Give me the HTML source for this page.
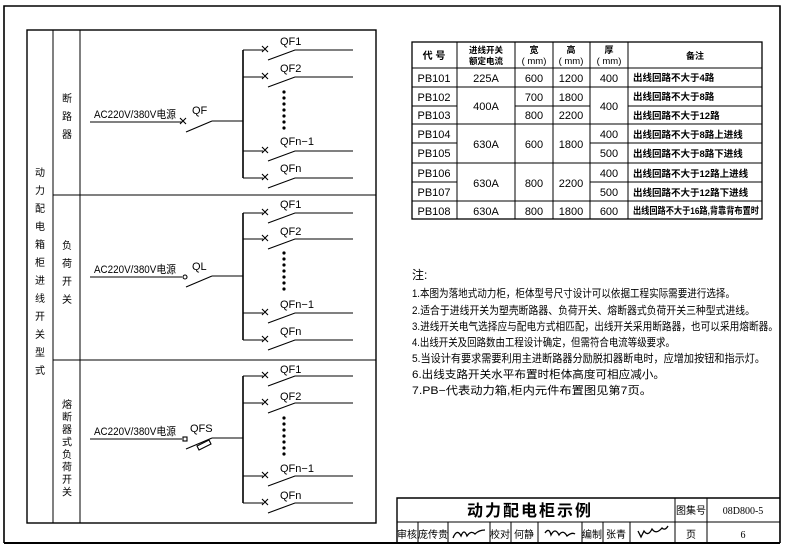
<!DOCTYPE html>
<html><head><meta charset="utf-8"><style>
html,body{margin:0;padding:0;background:#fff;}
svg{display:block;font-family:"Liberation Sans","Noto Sans CJK SC",sans-serif;}
</style></head><body>
<svg width="787" height="550" viewBox="0 0 787 550" xmlns="http://www.w3.org/2000/svg">
<g stroke="#000" fill="none">
<polyline points="4,543 4,6 780,6 780,543" stroke-width="1.6"/>
<line x1="4" y1="543" x2="780" y2="543" stroke-width="2"/>
<rect x="27" y="30" width="349" height="493" stroke-width="1.4"/>
<line x1="53" y1="30" x2="53" y2="523" stroke-width="1"/>
<line x1="80" y1="30" x2="80" y2="523" stroke-width="1"/>
<line x1="53" y1="195" x2="376" y2="195" stroke-width="1"/>
<line x1="53" y1="360" x2="376" y2="360" stroke-width="1"/>
</g>

<g stroke="#000" stroke-width="1.1" fill="none">
<line x1="90" y1="122" x2="182" y2="122"/>
<path d="M180,118 l6,6 M186,118 l-6,6"/>
<line x1="186" y1="132" x2="212" y2="121"/>
<line x1="212" y1="121" x2="243" y2="121"/>
<line x1="243" y1="50" x2="243" y2="178" stroke-width="1.6"/>
<line x1="90" y1="277" x2="182" y2="277"/>
<circle cx="185" cy="277" r="2"/>
<line x1="186" y1="287" x2="212" y2="276"/>
<line x1="212" y1="276" x2="243" y2="276"/>
<line x1="243" y1="213" x2="243" y2="340" stroke-width="1.6"/>
<line x1="90" y1="439" x2="182" y2="439"/>
<rect x="183" y="437" width="4" height="4"/>
<line x1="186" y1="449" x2="212" y2="438"/>
<polygon points="197,446 209,440 211,444 199,450" />
<line x1="212" y1="438" x2="243" y2="438"/>
<line x1="243" y1="376" x2="243" y2="503" stroke-width="1.6"/>
<g>
<path d="M243,50 H263 M262,46 l6,6 M268,46 l-6,6 M268,60 L295,50 H353"/>
<path d="M243,77 H263 M262,73 l6,6 M268,73 l-6,6 M268,87 L295,77 H353"/>
<path d="M243,151 H263 M262,147 l6,6 M268,147 l-6,6 M268,161 L295,151 H353"/>
<path d="M243,178 H263 M262,174 l6,6 M268,174 l-6,6 M268,188 L295,178 H353"/>
</g>
<g transform="translate(0,163)">
<path d="M243,50 H263 M262,46 l6,6 M268,46 l-6,6 M268,60 L295,50 H353"/>
<path d="M243,76 H263 M262,72 l6,6 M268,72 l-6,6 M268,86 L295,76 H353"/>
<path d="M243,150 H263 M262,146 l6,6 M268,146 l-6,6 M268,160 L295,150 H353"/>
<path d="M243,177 H263 M262,173 l6,6 M268,173 l-6,6 M268,187 L295,177 H353"/>
</g>
<g transform="translate(0,326)">
<path d="M243,50 H263 M262,46 l6,6 M268,46 l-6,6 M268,60 L295,50 H353"/>
<path d="M243,77 H263 M262,73 l6,6 M268,73 l-6,6 M268,87 L295,77 H353"/>
<path d="M243,150 H263 M262,146 l6,6 M268,146 l-6,6 M268,160 L295,150 H353"/>
<path d="M243,177 H263 M262,173 l6,6 M268,173 l-6,6 M268,187 L295,177 H353"/>
</g>
</g>

<g fill="#000">
<circle cx="284" cy="92" r="1.6"/><circle cx="284" cy="98" r="1.6"/><circle cx="284" cy="104" r="1.6"/><circle cx="284" cy="110" r="1.6"/><circle cx="284" cy="116" r="1.6"/><circle cx="284" cy="122" r="1.6"/><circle cx="284" cy="128" r="1.6"/>
<circle cx="284" cy="253" r="1.6"/><circle cx="284" cy="259" r="1.6"/><circle cx="284" cy="265" r="1.6"/><circle cx="284" cy="271" r="1.6"/><circle cx="284" cy="277" r="1.6"/><circle cx="284" cy="283" r="1.6"/><circle cx="284" cy="289" r="1.6"/>
<circle cx="284" cy="418" r="1.6"/><circle cx="284" cy="424" r="1.6"/><circle cx="284" cy="430" r="1.6"/><circle cx="284" cy="436" r="1.6"/><circle cx="284" cy="442" r="1.6"/><circle cx="284" cy="448" r="1.6"/><circle cx="284" cy="454" r="1.6"/>
</g>

<g font-size="11" fill="#000">
<text x="94" y="118" textLength="82" lengthAdjust="spacingAndGlyphs">AC220V/380V电源</text>
<text x="94" y="273" textLength="82" lengthAdjust="spacingAndGlyphs">AC220V/380V电源</text>
<text x="94" y="435" textLength="82" lengthAdjust="spacingAndGlyphs">AC220V/380V电源</text>
<text x="192" y="114">QF</text>
<text x="192" y="270">QL</text>
<text x="190" y="432">QFS</text>
<text x="280" y="45">QF1</text><text x="280" y="72">QF2</text><text x="280" y="145">QFn−1</text><text x="280" y="172">QFn</text>
<text x="280" y="208">QF1</text><text x="280" y="235">QF2</text><text x="280" y="308">QFn−1</text><text x="280" y="335">QFn</text>
<text x="280" y="373">QF1</text><text x="280" y="400">QF2</text><text x="280" y="472">QFn−1</text><text x="280" y="499">QFn</text>
</g>

<g font-size="10" fill="#000" text-anchor="middle">
<text x="40" y="176">动</text><text x="40" y="194">力</text><text x="40" y="212">配</text><text x="40" y="230">电</text><text x="40" y="248">箱</text><text x="40" y="266">柜</text><text x="40" y="284">进</text><text x="40" y="302">线</text><text x="40" y="320">开</text><text x="40" y="338">关</text><text x="40" y="356">型</text><text x="40" y="374">式</text>
<text x="67" y="102">断</text><text x="67" y="120">路</text><text x="67" y="138">器</text>
<text x="67" y="249">负</text><text x="67" y="267">荷</text><text x="67" y="285">开</text><text x="67" y="303">关</text>
<text x="67" y="408">熔</text><text x="67" y="420.5">断</text><text x="67" y="433">器</text><text x="67" y="445.5">式</text><text x="67" y="458">负</text><text x="67" y="470.5">荷</text><text x="67" y="483">开</text><text x="67" y="495.5">关</text>
</g>

<g stroke="#000" stroke-width="1" fill="none">
<rect x="412" y="42" width="350" height="177" stroke-width="1.3"/>
<path d="M412,68H762 M412,87H762 M412,124H762 M412,163H762 M412,201H762"/>
<path d="M412,106H457 M515,106H590 M628,106H762 M412,143H457 M590,143H762 M412,182H457 M590,182H762"/>
<path d="M457,42V219 M515,42V219 M553,42V219 M590,42V219 M628,42V219"/>
</g>
<g font-size="11" fill="#000" text-anchor="middle">
<text x="434" y="59" font-size="10" font-weight="bold">代 号</text>
<text x="486" y="53" font-size="8.5" font-weight="bold">进线开关</text>
<text x="486" y="64" font-size="8.5" font-weight="bold">额定电流</text>
<text x="534" y="53" font-size="9" font-weight="bold">宽</text><text x="534" y="64" font-size="9.5">( mm)</text>
<text x="571" y="53" font-size="9" font-weight="bold">高</text><text x="571" y="64" font-size="9.5">( mm)</text>
<text x="609" y="53" font-size="9" font-weight="bold">厚</text><text x="609" y="64" font-size="9.5">( mm)</text>
<text x="695" y="59" font-size="9" font-weight="bold">备注</text>
<text x="434" y="82">PB101</text><text x="434" y="101">PB102</text><text x="434" y="119">PB103</text><text x="434" y="138">PB104</text><text x="434" y="157">PB105</text><text x="434" y="177">PB106</text><text x="434" y="196">PB107</text><text x="434" y="215">PB108</text>
<text x="486" y="82">225A</text><text x="486" y="110">400A</text><text x="486" y="148">630A</text><text x="486" y="187">630A</text><text x="486" y="215">630A</text>
<text x="534" y="82">600</text><text x="534" y="101">700</text><text x="534" y="119">800</text><text x="534" y="148">600</text><text x="534" y="187">800</text><text x="534" y="215">800</text>
<text x="571" y="82">1200</text><text x="571" y="101">1800</text><text x="571" y="119">2200</text><text x="571" y="148">1800</text><text x="571" y="187">2200</text><text x="571" y="215">1800</text>
<text x="609" y="82">400</text><text x="609" y="110">400</text><text x="609" y="138">400</text><text x="609" y="157">500</text><text x="609" y="177">400</text><text x="609" y="196">500</text><text x="609" y="215">600</text>
</g>
<g font-size="9.5" fill="#000" font-weight="bold">
<text x="633" y="81">出线回路不大于4路</text>
<text x="633" y="100">出线回路不大于8路</text>
<text x="633" y="119">出线回路不大于12路</text>
<text x="633" y="138">出线回路不大于8路上进线</text>
<text x="633" y="157">出线回路不大于8路下进线</text>
<text x="633" y="177">出线回路不大于12路上进线</text>
<text x="633" y="196">出线回路不大于12路下进线</text>
<text x="633" y="214" textLength="126" lengthAdjust="spacingAndGlyphs">出线回路不大于16路,背靠背布置时</text>
</g>

<g font-size="11" fill="#000">
<text x="412" y="279" font-size="12">注:</text>
<text x="412" y="297" textLength="323" lengthAdjust="spacingAndGlyphs">1.本图为落地式动力柜，柜体型号尺寸设计可以依据工程实际需要进行选择。</text>
<text x="412" y="314" textLength="343" lengthAdjust="spacingAndGlyphs">2.适合于进线开关为塑壳断路器、负荷开关、熔断器式负荷开关三种型式进线。</text>
<text x="412" y="330" textLength="366" lengthAdjust="spacingAndGlyphs">3.进线开关电气选择应与配电方式相匹配，出线开关采用断路器，也可以采用熔断器。</text>
<text x="412" y="346" textLength="263" lengthAdjust="spacingAndGlyphs">4.出线开关及回路数由工程设计确定，但需符合电流等级要求。</text>
<text x="412" y="362" textLength="353" lengthAdjust="spacingAndGlyphs">5.当设计有要求需要利用主进断路器分励脱扣器断电时，应增加按钮和指示灯。</text>
<text x="412" y="378" textLength="253" lengthAdjust="spacingAndGlyphs">6.出线支路开关水平布置时柜体高度可相应减小。</text>
<text x="412" y="394" textLength="240" lengthAdjust="spacingAndGlyphs">7.PB−代表动力箱,柜内元件布置图见第7页。</text>
</g>

<g stroke="#000" fill="none">
<path d="M397,543 V498 H780" stroke-width="1.4"/>
<path d="M397,522 H780" stroke-width="1"/>
<path d="M675,498V543 M707,498V543" stroke-width="1"/>
<path d="M418,522V543 M448,522V543 M490,522V543 M511,522V543 M538,522V543 M582,522V543 M603,522V543 M630,522V543" stroke-width="1"/>
</g>
<g fill="#000" text-anchor="middle">
<text x="530" y="516" font-size="16" font-weight="bold" letter-spacing="2">动力配电柜示例</text>
<text x="691" y="514" font-size="10">图集号</text>
<text x="743" y="514" font-size="10" font-family="Liberation Serif,serif">08D800-5</text>
<text x="407" y="538" font-size="10">审核</text>
<text x="433" y="538" font-size="10">庞传贵</text>
<text x="500" y="538" font-size="10">校对</text>
<text x="524" y="538" font-size="10">何静</text>
<text x="592" y="538" font-size="10">编制</text>
<text x="616" y="538" font-size="10">张青</text>
<text x="691" y="538" font-size="10">页</text>
<text x="743" y="538" font-size="10" font-family="Liberation Serif,serif">6</text>
</g>
<g stroke="#000" stroke-width="1.3" fill="none">
<path d="M453,538 q4,-10 8,-2 q3,-8 6,0 q4,-6 8,-2 q4,-4 10,-4"/>
<path d="M545,533 q4,-6 6,2 q4,-8 8,0 q4,-6 8,1 q5,-4 8,-2"/>
<path d="M638,531 l3,6 l3,-6 q4,6 8,-2 q4,6 10,-1 q3,3 6,-2"/>
</g>
</svg>
</body></html>
